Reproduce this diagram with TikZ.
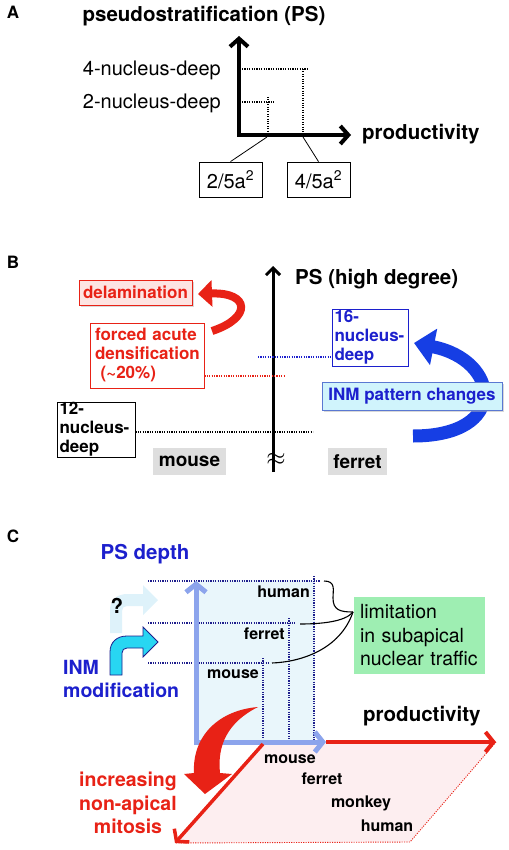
\documentclass[tikz,border=0pt]{standalone}
\usepackage{fontspec}
\setmainfont{TeX Gyre Heros}
\usepackage{tikz}
\usetikzlibrary{arrows.meta,shadows,positioning}

\definecolor{mred}{RGB}{232,34,22}
\definecolor{mblue}{RGB}{28,32,205}
\definecolor{arcblue}{RGB}{22,62,228}
\definecolor{pinkbg}{RGB}{253,228,226}
\definecolor{cyanbg}{RGB}{208,244,252}
\definecolor{cyanline}{RGB}{90,120,210}
\definecolor{grayb}{RGB}{222,222,222}
\definecolor{icefill}{RGB}{233,246,251}
\definecolor{axisblue}{RGB}{140,164,236}
\definecolor{limgreen}{RGB}{158,238,178}
\definecolor{inmcyan}{RGB}{40,214,242}
\definecolor{qcyan}{RGB}{222,242,250}
\definecolor{navy}{RGB}{30,30,140}
\definecolor{parapink}{RGB}{253,238,240}

\begin{document}
\begin{tikzpicture}[x=1pt,y=-1pt,
font=\fontsize{20}{24}\selectfont,
panel/.style={font=\fontsize{17}{20}\selectfont\bfseries,inner sep=0pt},
title/.style={font=\fontsize{20.5}{24}\selectfont\bfseries,inner sep=0pt},
plain/.style={font=\fontsize{20}{24}\selectfont,inner sep=0pt},
mid/.style={font=\fontsize{17}{19}\selectfont\bfseries},
animal/.style={font=\fontsize{16}{19}\selectfont\bfseries,inner sep=0pt},
dotline/.style={line width=1.1pt,dash pattern=on 1.1pt off 1.3pt},
valbox/.style={draw,line width=0.8pt,minimum width=63pt,minimum height=35pt,inner sep=0pt,font=\fontsize{20}{24}\selectfont},
boxed/.style={mid,draw,line width=0.8pt,inner sep=0pt,align=left},
qbend/.style={fill=qcyan},
inmbend/.style={fill=inmcyan,draw=navy,line width=0.8pt},
scale=1]
\useasboundingbox (0,0) rectangle (508,850);

% ---------------- A
\node[panel] (pA) at (13,12) {A};
\node[title] (psA) at (204,16) {pseudostratification (PS)};
\coordinate (oA) at (239,135);
\coordinate (yA) at (239,36);
\coordinate (xA) at (351,135);
\draw[line width=4pt,<->,>={Straight Barb[length=8pt,width=18pt]}] (yA) |- (xA);
\node[title,anchor=west] (prA) at (362,134) {productivity};
\node[plain,anchor=east] (d4) at (221,70) {4-nucleus-deep};
\node[plain,anchor=east] (d2) at (221,103) {2-nucleus-deep};
\draw[dotline] (242,69) -- (307,69);
\draw[dotline] (303,69) -- (303,133);
\draw[dotline] (242,102) -- (275,102);
\draw[dotline] (268,97) -- (268,133);
\node[valbox] (v2) at (230.5,179.5) {2/5a\textsuperscript{2}};
\node[valbox] (v4) at (318.5,179.5) {4/5a\textsuperscript{2}};
\coordinate (t2) at (267,137);
\coordinate (t4) at (303,137);
\draw[line width=0.8pt] (t2) -- (v2.north);
\draw[line width=0.8pt] (t4) -- (v4.north);

% ---------------- B
\node[panel] (pB) at (13,262) {B};
\coordinate (bB) at (273,472);
\coordinate (tB) at (273,266);
\draw[line width=3pt,->,>={Straight Barb[length=7pt,width=14pt]}] (bB) -- (tB);
\node[font=\fontsize{28}{28}\selectfont,inner sep=0pt] (brk) at (276,459) {$\approx$};
\node[title,anchor=west] (psB) at (295,279) {PS (high degree)};

\draw[mred,line width=8pt,-{Triangle[length=14pt,width=26pt]}]
  (212,331) .. controls (252,318) and (250,292) .. (198,294);
\node[boxed,mred,fill=pinkbg,align=center,minimum width=113pt,minimum height=25pt,
  drop shadow={shadow xshift=1.5pt,shadow yshift=-1.5pt,fill=black!30}] (del) at (135.5,292.5) {delamination};
\node[boxed,mred,fill=white,text width=104pt,inner xsep=5pt,minimum height=65pt] (fad) at (147,355.5)
  {forced acute\\densification\\\ (\textasciitilde20\%)};
\coordinate (fadE) at (285,376);
\draw[dotline,mred] (fad.east |- fadE) -- (fadE);

\draw[arcblue,line width=13pt,-{Triangle[length=20pt,width=36pt]}]
  (413,436) .. controls (510,436) and (500,360) .. (414,343);
\node[boxed,mblue,fill=white,text width=71pt,inner xsep=2.5pt,minimum height=57pt] (n16) at (370,337.5)
  {16-\\nucleus-\\deep};
\coordinate (bdW) at (258,357);
\draw[dotline,mblue] (bdW) -- (n16.west |- bdW);
\node[boxed,mblue,draw=cyanline,fill=cyanbg,align=center,minimum width=180pt,minimum height=28pt,
  drop shadow={shadow xshift=1.5pt,shadow yshift=-1.5pt,fill=black!30}] (inmB) at (412,396) {INM pattern changes};

\node[boxed,fill=white,text width=73pt,inner xsep=2.5pt,minimum height=55pt] (n12) at (96,429.5)
  {12-\\nucleus-\\deep};
\coordinate (kdE) at (313,432);
\draw[dotline] (n12.east |- kdE) -- (kdE);
\node[mid,fill=grayb,font=\fontsize{19}{20}\selectfont\bfseries,minimum width=73pt,minimum height=27pt,inner sep=0pt] (msB) at (189.5,461.5) {mouse};
\node[mid,fill=grayb,font=\fontsize{19}{20}\selectfont\bfseries,minimum width=59pt,minimum height=27pt,inner sep=0pt] (frB) at (357.5,461.5) {ferret};

% ---------------- C
\node[panel] (pC) at (13,536) {C};
\node[title,mblue] (psC) at (145,554) {PS depth};

\coordinate (oC) at (196,742);
\coordinate (yC) at (196,581);
\coordinate (xC) at (326,742);
\coordinate (rC) at (263,744);
\coordinate (pE) at (496,742);
\coordinate (dC) at (175,843);
\coordinate (pL) at (410,842);

\fill[parapink] (rC) -- (pE) -- (pL) -- (dC) -- cycle;
\draw[dotline,mred,line width=0.9pt] (pE) -- (pL) -- (dC);
\fill[icefill] (196,580) rectangle (315,742);

\foreach \yy/\xx/\nm in {581/314/human, 623/289/ferret, 663/263/mouse}{
  \draw[dotline,navy,line width=1.1pt] (148,\yy) -- (\xx+6,\yy);
  \draw[dotline,navy,line width=1.1pt] (\xx,\yy-5) -- (\xx,742);
  \node[animal,anchor=east] (c-\nm) at (\xx-4,\yy+11) {\nm};
}

\draw[axisblue,line width=5pt,<->,>={Straight Barb[length=8pt,width=20pt]}] (yC) |- (xC);
\draw[mred,line width=4pt,->,>={Straight Barb[length=8pt,width=20pt]}] (xC) -- (pE);
\draw[mred,line width=3.5pt,->,>={Straight Barb[length=8pt,width=20pt]}] (rC) -- (dC);

\fill[mred] (258,707) .. controls (220,710) and (192,735) .. (194,773) -- (184,774) -- (205,794)
  -- (232,774) -- (220,773) .. controls (217,745) and (228,722) .. (258,707) -- cycle;

\node[title,anchor=west] (prC) at (363,716) {productivity};
\foreach \nm/\xx/\yy in {mouse/290/759, ferret/322/779, monkey/361/803, human/387/826}
  \node[animal] (p-\nm) at (\xx,\yy) {\nm};
\node[title,mred,align=center,font=\fontsize{19.5}{23.5}\selectfont\bfseries] (nam) at (128,803)
  {increasing\\non-apical\\mitosis};

% bent arrows
\foreach \dy/\st in {42/qbend, 0/inmbend}{
  \path[\st,yshift=\dy pt] (110,675) -- (110,652) .. controls (110,642) and (117,636) .. (127,636)
    -- (143,636) -- (143,627) -- (158,642) -- (143,657) -- (143,648) -- (127,648)
    .. controls (124,648) and (122,650) .. (122,653) -- (122,675) -- cycle;
}
\node[title] (q) at (117,606) {?};
\node[title,mblue,align=left,anchor=west,font=\fontsize{19.5}{23.5}\selectfont\bfseries] (inmC) at (63,679)
  {INM\\modification};

\node[font=\fontsize{19.5}{23.5}\selectfont,fill=limgreen,text width=119pt,inner xsep=6pt,
  minimum height=77pt,align=left] (lim) at (419.5,635.5) {limitation\\in subapical\\nuclear traffic};
\coordinate (brc) at (353,612);
\coordinate (hE) at (324,581);
\coordinate (fE) at (300,624);
\coordinate (mE) at (272,663);
\draw[line width=1.1pt] (hE) .. controls (336,581) and (333,590) .. (333,598)
  .. controls (333,610) and (340,612) .. (brc);
\draw[line width=1.1pt] (brc) .. controls (345,622) and (320,624) .. (fE);
\draw[line width=1.1pt] (brc) .. controls (340,650) and (300,662) .. (mE);

\end{tikzpicture}
\end{document}
